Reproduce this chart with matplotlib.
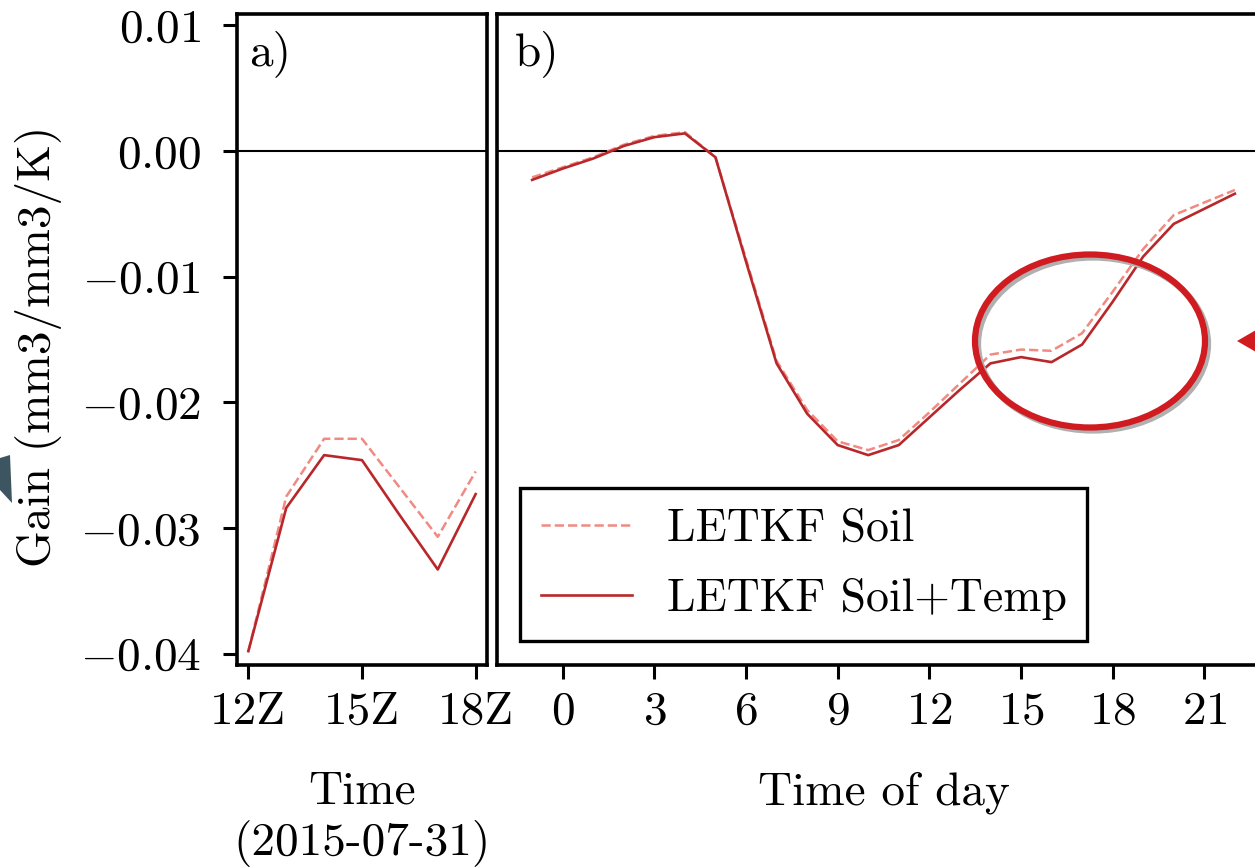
import matplotlib
matplotlib.use("Agg")
import matplotlib.pyplot as plt
from matplotlib.patches import Ellipse, Polygon

# Gain values
hours_a = [12, 13, 14, 15, 16, 17, 18]
soil_a = [-0.0398, -0.0275, -0.0229, -0.0229, -0.0268, -0.0307, -0.0255]
soiltemp_a = [-0.0398, -0.0284, -0.0242, -0.0246, -0.0290, -0.0333, -0.0273]

hours_b = list(range(-1, 23))
soil_b = [-0.0021, -0.0013, -0.0005, 0.0005, 0.0012, 0.0015, -0.0005, -0.0086,
          -0.0167, -0.0206, -0.0231, -0.0238, -0.0230, -0.0208, -0.0185, -0.0162,
          -0.0158, -0.0159, -0.0145, -0.0112, -0.0078, -0.0051, -0.0041, -0.0031]
soiltemp_b = [-0.0023, -0.0014, -0.0006, 0.0004, 0.0011, 0.0014, -0.0005, -0.0088,
              -0.0169, -0.0209, -0.0234, -0.0242, -0.0234, -0.0212, -0.0190, -0.0169,
              -0.0164, -0.0168, -0.0154, -0.0120, -0.0084, -0.0058, -0.0046, -0.0034]

ticks_a = [12, 15, 18]
ticklabels_a = ["12Z", "15Z", "18Z"]
ticks_b = [0, 3, 6, 9, 12, 15, 18, 21]
yticks = [0.01, 0.0, -0.01, -0.02, -0.03, -0.04]
labels = ["LETKF Soil", "LETKF Soil+Temp"]

plt.rcParams["font.family"] = "serif"
plt.rcParams["font.serif"] = ["cmr10"]
plt.rcParams["mathtext.fontset"] = "cm"
plt.rcParams["axes.formatter.use_mathtext"] = True
plt.rcParams["font.size"] = 34

soil_col = "#f08a82"
temp_col = "#b8282b"

fig = plt.figure(figsize=(12.55, 8.68), dpi=100)
W, H = 1255, 868
ax_a = fig.add_axes([237 / W, 1 - 665 / H, 250 / W, 651 / H])
ax_b = fig.add_axes([497 / W, 1 - 665 / H, 773 / W, 651 / H])

for ax in (ax_a, ax_b):
    ax.axhline(0, color="k", lw=1.5, zorder=1)
    for sp in ax.spines.values():
        sp.set_linewidth(2.6)
    ax.set_ylim(-0.0409, 0.0109)
    ax.tick_params(length=10, width=2.2, pad=9)
ax_a.tick_params(axis="y", pad=16)

# panel a
ax_a.plot(hours_a, soil_a, color=soil_col, ls="--", lw=1.8)
ax_a.plot(hours_a, soiltemp_a, color=temp_col, lw=1.9)
ax_a.set_xlim(11.7, 18.3)
ax_a.set_xticks(ticks_a, ticklabels_a)
ax_a.set_yticks(yticks)
ax_a.set_ylabel("Gain (mm3/mm3/K)")
ax_a.yaxis.set_label_coords(-0.7, 0.49)
ax_a.set_xlabel("Time\n(2015-07-31)", va="top")
ax_a.xaxis.set_label_coords(0.5, -0.163)
ax_a.text(0.05, 0.975, "a)", transform=ax_a.transAxes, va="top", ha="left")

# panel b
ax_b.plot(hours_b, soil_b, color=soil_col, ls="--", lw=1.8, label=labels[0])
ax_b.plot(hours_b, soiltemp_b, color=temp_col, lw=1.9, label=labels[1])
ax_b.set_xlim(-2.15, 23.15)
ax_b.set_xticks(ticks_b)
ax_b.set_yticks([])
ax_b.set_xlabel("Time of day", va="top")
ax_b.xaxis.set_label_coords(0.5, -0.163)
ax_b.text(0.023, 0.975, "b)", transform=ax_b.transAxes, va="top", ha="left")
leg = ax_b.legend(loc="lower left", bbox_to_anchor=(0.03, 0.037), borderaxespad=0,
                  fontsize=33, fancybox=False, framealpha=1, edgecolor="k",
                  handlelength=2.0, handletextpad=0.75, labelspacing=0.62, borderpad=0.45)
leg.get_frame().set_linewidth(2.4)

# overlaid annotation marks
ft = fig.transFigure
cx, cy = 1090 / W, 1 - 341 / H
fig.add_artist(Ellipse((cx + 3 / W, cy - 3 / H), 230 / W, 173 / H, transform=ft,
                       fill=False, ec="#b0b0b0", lw=4.5))
fig.add_artist(Ellipse((cx, cy), 230 / W, 173 / H, transform=ft,
                       fill=False, ec="#d01c20", lw=4.5))
fig.add_artist(Polygon([(1237 / W, 1 - 341 / H), (1256 / W, 1 - 330 / H), (1256 / W, 1 - 352 / H)],
                       closed=True, transform=ft, fc="#d01c20", ec="none"))
fig.add_artist(Polygon([(0, 1 - 458 / H), (10 / W, 1 - 455 / H), (12 / W, 1 - 503 / H), (0, 1 - 490 / H)],
                       closed=True, transform=ft, fc="#3d5560", ec="none"))

fig.savefig("out.png", dpi=100)
